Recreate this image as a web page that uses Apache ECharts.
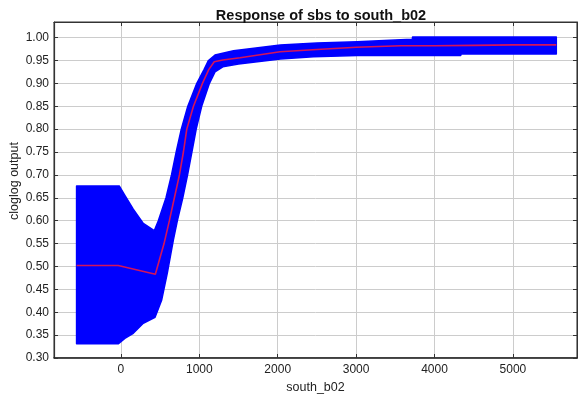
<!DOCTYPE html>
<html>
<head>
<meta charset="utf-8">
<script src="https://cdn.jsdelivr.net/npm/echarts@6/dist/echarts.min.js"></script>
<style>
  html, body { margin: 0; padding: 0; background: #fff; }
  #chart { width: 578px; height: 394px; }
</style>
</head>
<body>
<div id="chart"></div>
<script>
// Mean response (cloglog output) against south_b02
const meanX = [-566, -35, 439, 500, 550, 618, 682, 746, 797, 840, 925, 1040, 1120, 1190, 1300, 1520, 2030, 2500, 3000, 3570, 4000, 4500, 5000, 5554];
const meanY = [0.502, 0.502, 0.483, 0.52, 0.55, 0.60, 0.65, 0.70, 0.75, 0.80, 0.85, 0.90, 0.93, 0.947, 0.951, 0.956, 0.969, 0.974, 0.979, 0.982, 0.982, 0.983, 0.984, 0.984];

// Upper edge of the +/- one standard deviation band
const upperX = [-566, -22, 50, 157, 285, 425, 477, 575, 645, 705, 770, 853, 968, 1060, 1117, 1200, 1436, 2033, 2500, 3014, 3568, 3717, 3720, 5554];
const upperY = [0.676, 0.676, 0.655, 0.625, 0.594, 0.578, 0.60, 0.65, 0.70, 0.75, 0.80, 0.85, 0.90, 0.93, 0.95, 0.962, 0.971, 0.984, 0.988, 0.991, 0.995, 0.9965, 1.001, 1.001];

// Lower edge of the band
const lowerX = [-566, -35, 50, 157, 285, 435, 520, 592, 669, 720, 789, 850, 905, 960, 1030, 1129, 1200, 1300, 1500, 2033, 2456, 3014, 4335, 4340, 5554];
const lowerY = [0.331, 0.331, 0.343, 0.354, 0.376, 0.389, 0.427, 0.486, 0.558, 0.60, 0.65, 0.70, 0.75, 0.80, 0.85, 0.90, 0.925, 0.936, 0.942, 0.953, 0.958, 0.961, 0.961, 0.964, 0.964];

const xRange = [-854, 5818];
const yRange = [0.30, 1.034];

const chart = echarts.init(document.getElementById('chart'), null, { renderer: 'canvas' });
const font = 'Liberation Sans, Arial, Helvetica, sans-serif';
const gridColor = '#cccccc';
const frameColor = '#333';

const xCommon = {
  type: 'value', min: xRange[0], max: xRange[1], splitNumber: 7,
  axisLine: { show: true, onZero: false, lineStyle: { color: frameColor, width: 1.2 } },
  axisTick: { show: true, inside: true, length: 4, lineStyle: { color: frameColor } },
  splitLine: { show: false }
};
const yCommon = {
  type: 'value', min: yRange[0], max: yRange[1], interval: 0.05,
  axisLine: { show: true, onZero: false, lineStyle: { color: frameColor, width: 1.2 } },
  axisTick: { show: true, inside: true, length: 4, lineStyle: { color: frameColor } },
  splitLine: { show: false }
};

chart.setOption({
  animation: false,
  backgroundColor: '#fff',
  title: {
    text: 'Response of sbs to south_b02',
    left: 316, top: 3, textAlign: 'center',
    textStyle: { fontFamily: font, fontSize: 14.5, fontWeight: 'bold', color: '#111' }
  },
  graphic: [{
    type: 'text',
    x: 15, y: 181, rotation: Math.PI / 2,
    style: {
      text: 'cloglog output', fontFamily: font, fontSize: 12.5, fill: '#222',
      align: 'center', verticalAlign: 'middle'
    }
  }],
  grid: {
    left: 54, right: 1, top: 22, bottom: 36,
    outerBoundsMode: 'none', containLabel: false,
    show: true, borderColor: frameColor, borderWidth: 1
  },
  xAxis: [
    Object.assign({}, xCommon, {
      position: 'bottom',
      name: 'south_b02', nameLocation: 'middle', nameGap: 18,
      nameTextStyle: { fontFamily: font, fontSize: 12.5, color: '#222' },
      axisLine: { show: true, onZero: false, lineStyle: { color: '#222', width: 1.6 } },
      axisLabel: {
        fontFamily: font, fontSize: 12, color: '#222', margin: 6,
        showMinLabel: false, showMaxLabel: false, formatter: v => String(v)
      },
      splitLine: { show: true, lineStyle: { color: gridColor, width: 1 } }
    }),
    Object.assign({}, xCommon, { position: 'top', axisLabel: { show: false } })
  ],
  yAxis: [
    Object.assign({}, yCommon, {
      position: 'left',
      axisLabel: {
        fontFamily: font, fontSize: 12, color: '#222', margin: 5, showMaxLabel: false,
        formatter: v => v.toFixed(2)
      },
      splitLine: { show: true, lineStyle: { color: gridColor, width: 1 } }
    }),
    Object.assign({}, yCommon, { position: 'right', axisLabel: { show: false } })
  ],
  series: [
    {
      // standard deviation band, drawn as one polygon from the upper and lower edges
      type: 'custom',
      xAxisIndex: 0, yAxisIndex: 0,
      clip: true,
      data: [0],
      renderItem: function (params, api) {
        const pts = [];
        for (let i = 0; i < upperX.length; i++) pts.push(api.coord([upperX[i], upperY[i]]));
        for (let i = lowerX.length - 1; i >= 0; i--) pts.push(api.coord([lowerX[i], lowerY[i]]));
        return {
          type: 'polygon',
          shape: { points: pts },
          style: { fill: '#0000ff', stroke: '#0000ff', lineWidth: 1.5, lineJoin: 'round' }
        };
      },
      z: 2
    },
    {
      type: 'line',
      xAxisIndex: 0, yAxisIndex: 0,
      data: meanX.map((x, i) => [x, meanY[i]]),
      showSymbol: false,
      lineStyle: { color: '#d4145a', width: 1.6 },
      z: 3
    }
  ]
});
</script>
</body>
</html>
